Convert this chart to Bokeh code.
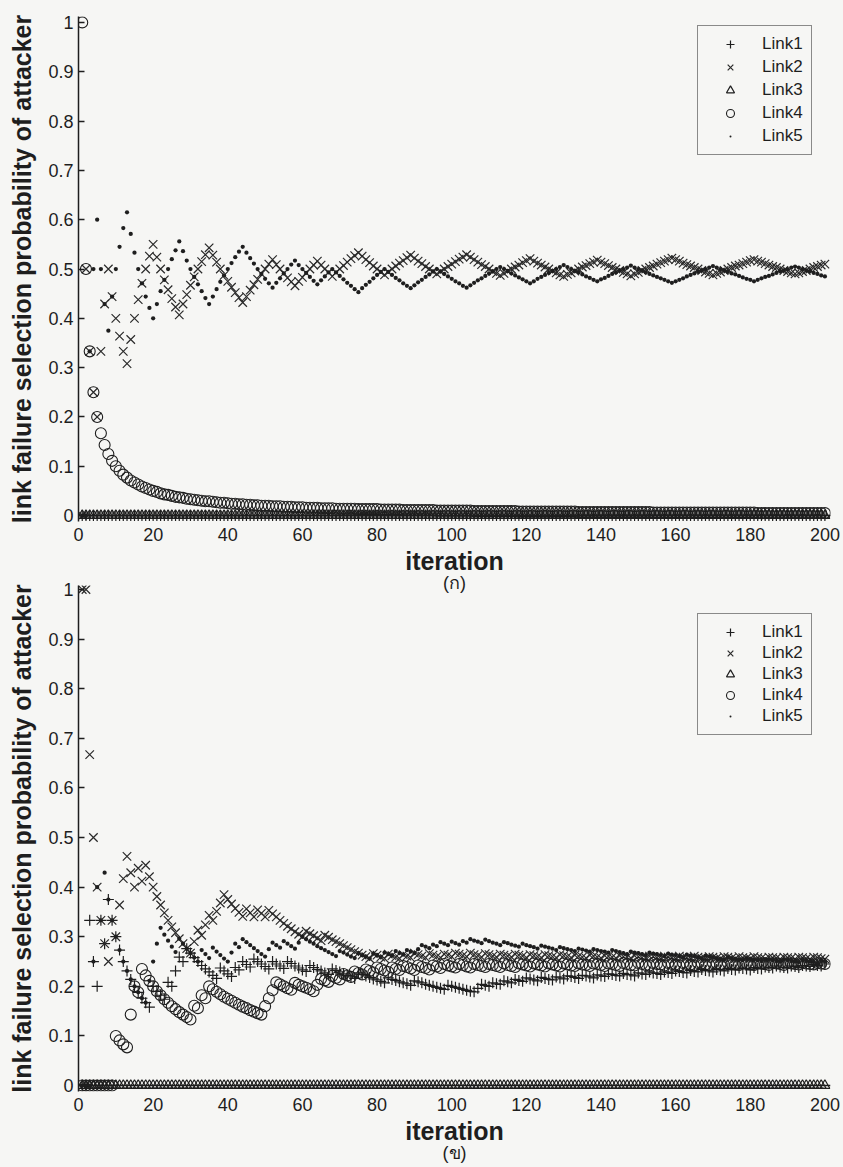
from bokeh.plotting import figure
from bokeh.models import Range1d, FixedTicker, Legend, LegendItem, Span, Title
from bokeh.layouts import column
from bokeh.embed import file_html
from bokeh.resources import INLINE

# ---------------- data ----------------
iterations = list(range(1, 201))
series_names = ["Link1", "Link2", "Link3", "Link4", "Link5"]
x_ticks = [0, 20, 40, 60, 80, 100, 120, 140, 160, 180, 200]
y_ticks = [0, 0.1, 0.2, 0.3, 0.4, 0.5, 0.6, 0.7, 0.8, 0.9, 1.0]
y_tick_labels = ["0", "0.1", "0.2", "0.3", "0.4", "0.5", "0.6", "0.7", "0.8", "0.9", "1"]
x_label = "iteration"
y_label = "link failure selection probability of attacker"
captions = ["(ก)", "(ข)"]

# panel (ก)
link1_top = [0.0] * 200
link3_top = [0.0] * 200
link4_top = [
    1, .5, .333, .25, .2, .167, .143, .125, .111, .1,
    .091, .083, .077, .071, .067, .063, .059, .056, .053, .05,
    .048, .045, .043, .042, .04, .038, .037, .036, .034, .033,
    .032, .031, .03, .029, .029, .028, .027, .026, .026, .025,
    .024, .024, .023, .023, .022, .022, .021, .021, .02, .02,
    .02, .019, .019, .019, .018, .018, .018, .017, .017, .017,
    .016, .016, .016, .016, .015, .015, .015, .015, .014, .014,
    .014, .014, .014, .014, .013, .013, .013, .013, .013, .013,
    .012, .012, .012, .012, .012, .012, .011, .011, .011, .011,
    .011, .011, .011, .011, .011, .01, .01, .01, .01, .01,
    .01, .01, .01, .01, .01, .009, .009, .009, .009, .009,
    .009, .009, .009, .009, .009, .009, .009, .008, .008, .008,
    .008, .008, .008, .008, .008, .008, .008, .008, .008, .008,
    .008, .008, .008, .007, .007, .007, .007, .007, .007, .007,
    .007, .007, .007, .007, .007, .007, .007, .007, .007, .007,
    .007, .007, .007, .006, .006, .006, .006, .006, .006, .006,
    .006, .006, .006, .006, .006, .006, .006, .006, .006, .006,
    .006, .006, .006, .006, .006, .006, .006, .006, .006, .006,
    .006, .005, .005, .005, .005, .005, .005, .005, .005, .005,
    .005, .005, .005, .005, .005, .005, .005, .005, .005, .005,
]
link2_top = [
    0, .5, .333, .25, .2, .333, .429, .5, .444, .4,
    .364, .333, .308, .357, .4, .438, .471, .5, .526, .55,
    .524, .5, .478, .458, .44, .423, .407, .429, .448, .467,
    .484, .5, .515, .529, .543, .528, .514, .5, .487, .475,
    .463, .452, .442, .432, .444, .457, .468, .479, .49, .5,
    .51, .519, .509, .5, .491, .482, .474, .466, .475, .483,
    .492, .5, .508, .516, .508, .5, .493, .485, .493, .5,
    .507, .514, .521, .527, .533, .526, .519, .513, .506, .5,
    .494, .488, .494, .5, .506, .512, .517, .523, .528, .522,
    .516, .511, .505, .5, .495, .49, .495, .5, .505, .51,
    .515, .52, .524, .529, .524, .519, .514, .509, .505, .5,
    .495, .491, .487, .491, .496, .5, .504, .508, .513, .517,
    .521, .516, .512, .508, .504, .5, .496, .492, .488, .485,
    .489, .492, .496, .5, .504, .507, .511, .514, .518, .514,
    .511, .507, .503, .5, .497, .493, .49, .486, .49, .493,
    .497, .5, .503, .506, .51, .513, .516, .519, .522, .519,
    .516, .512, .509, .506, .503, .5, .497, .494, .491, .488,
    .491, .494, .497, .5, .503, .506, .508, .511, .514, .517,
    .519, .516, .514, .511, .508, .505, .503, .5, .497, .495,
    .492, .49, .492, .495, .497, .5, .503, .505, .508, .51,
]
link5_top = [
    0, 0, .333, .5, .6, .5, .429, .375, .444, .5,
    .545, .583, .615, .571, .533, .5, .471, .444, .421, .4,
    .429, .455, .478, .5, .52, .538, .556, .536, .517, .5,
    .484, .469, .455, .441, .429, .444, .459, .474, .487, .5,
    .512, .524, .535, .545, .533, .522, .511, .5, .49, .48,
    .471, .462, .472, .481, .491, .5, .509, .517, .508, .5,
    .492, .484, .476, .469, .477, .485, .493, .5, .493, .486,
    .479, .472, .466, .459, .453, .461, .468, .474, .481, .488,
    .494, .5, .494, .488, .482, .477, .471, .466, .461, .467,
    .473, .478, .484, .489, .495, .5, .495, .49, .485, .48,
    .475, .471, .466, .462, .467, .472, .477, .481, .486, .491,
    .495, .5, .504, .5, .496, .491, .487, .483, .479, .475,
    .471, .475, .48, .484, .488, .492, .496, .5, .504, .508,
    .504, .5, .496, .493, .489, .485, .482, .478, .475, .479,
    .482, .486, .49, .493, .497, .5, .503, .507, .503, .5,
    .497, .493, .49, .487, .484, .481, .478, .475, .472, .475,
    .478, .481, .485, .488, .491, .494, .497, .5, .503, .506,
    .503, .5, .497, .494, .491, .489, .486, .483, .48, .478,
    .475, .478, .481, .484, .486, .489, .492, .495, .497, .5,
    .503, .505, .503, .5, .497, .495, .492, .49, .487, .485,
]

# panel (ข)
link3_bot = [0.0] * 200
link1_bot = [
    0, 0, .333, .25, .2, .333, .286, .375, .333, .3,
    .273, .25, .231, .214, .2, .188, .176, .167, .158, .2,
    .19, .182, .174, .208, .2, .231, .259, .25, .276, .267,
    .258, .25, .242, .235, .229, .222, .216, .237, .231, .225,
    .22, .238, .233, .25, .244, .239, .255, .25, .245, .24,
    .235, .25, .245, .241, .236, .25, .246, .241, .237, .233,
    .23, .242, .238, .234, .231, .227, .224, .235, .232, .229,
    .225, .222, .219, .216, .227, .224, .221, .218, .215, .213,
    .21, .207, .217, .214, .212, .209, .207, .205, .202, .211,
    .209, .207, .204, .202, .2, .198, .196, .194, .202, .2,
    .198, .196, .194, .192, .19, .189, .196, .204, .202, .2,
    .207, .205, .204, .211, .209, .207, .214, .212, .21, .217,
    .215, .213, .211, .218, .216, .214, .213, .219, .217, .215,
    .221, .22, .218, .216, .222, .221, .219, .217, .223, .221,
    .22, .225, .224, .222, .221, .226, .224, .223, .221, .227,
    .225, .224, .229, .227, .226, .224, .229, .228, .226, .231,
    .23, .228, .227, .232, .23, .229, .234, .232, .231, .229,
    .234, .233, .231, .236, .234, .233, .237, .236, .235, .233,
    .238, .236, .235, .239, .238, .237, .241, .239, .238, .237,
    .241, .24, .238, .242, .241, .24, .244, .242, .241, .245,
]
link2_bot = [
    1, 1, .667, .5, .4, .333, .286, .25, .333, .3,
    .364, .417, .462, .429, .4, .438, .412, .444, .421, .4,
    .381, .364, .348, .333, .32, .308, .296, .286, .276, .267,
    .29, .313, .303, .324, .343, .333, .351, .368, .385, .375,
    .366, .357, .349, .341, .356, .348, .34, .354, .347, .34,
    .353, .346, .34, .333, .327, .321, .316, .31, .305, .3,
    .311, .306, .302, .297, .292, .303, .299, .294, .29, .286,
    .282, .278, .274, .27, .267, .263, .26, .256, .266, .263,
    .259, .256, .265, .262, .259, .256, .264, .261, .258, .267,
    .264, .261, .258, .266, .263, .26, .258, .265, .263, .26,
    .267, .265, .262, .26, .267, .264, .262, .259, .266, .264,
    .261, .259, .265, .263, .261, .259, .265, .263, .261, .258,
    .264, .262, .26, .258, .264, .262, .26, .258, .264, .262,
    .26, .258, .263, .261, .259, .257, .263, .261, .259, .257,
    .262, .261, .259, .257, .262, .26, .259, .257, .262, .26,
    .258, .257, .261, .26, .258, .256, .261, .259, .258, .256,
    .261, .259, .258, .256, .261, .259, .257, .256, .26, .259,
    .257, .256, .26, .259, .257, .256, .26, .258, .257, .256,
    .26, .258, .257, .255, .259, .258, .257, .255, .259, .258,
    .257, .255, .259, .258, .256, .255, .259, .258, .256, .255,
]
link4_bot = [
    0, 0, 0, 0, 0, 0, 0, 0, 0, .1,
    .091, .083, .077, .143, .2, .188, .235, .222, .211, .2,
    .19, .182, .174, .167, .16, .154, .148, .143, .138, .133,
    .161, .156, .182, .176, .2, .194, .189, .184, .179, .175,
    .171, .167, .163, .159, .156, .152, .149, .146, .143, .16,
    .176, .192, .208, .204, .2, .196, .193, .207, .203, .2,
    .197, .194, .19, .203, .215, .212, .209, .221, .217, .214,
    .225, .222, .219, .23, .227, .224, .234, .231, .228, .238,
    .235, .232, .229, .238, .235, .233, .241, .239, .236, .233,
    .242, .239, .237, .234, .242, .24, .237, .245, .242, .24,
    .238, .245, .243, .24, .238, .245, .243, .241, .239, .245,
    .243, .241, .239, .246, .243, .241, .239, .246, .244, .242,
    .24, .246, .244, .242, .24, .246, .244, .242, .24, .246,
    .244, .242, .241, .246, .244, .243, .241, .246, .245, .243,
    .241, .246, .245, .243, .241, .247, .245, .243, .242, .247,
    .245, .243, .242, .247, .245, .244, .242, .247, .245, .244,
    .242, .247, .245, .244, .242, .247, .246, .244, .243, .247,
    .246, .244, .243, .247, .246, .244, .243, .247, .246, .244,
    .243, .247, .246, .245, .243, .247, .246, .245, .243, .247,
    .246, .245, .244, .247, .246, .245, .244, .247, .246, .245,
]
link5_bot = [
    0, 0, 0, .25, .4, .333, .429, .375, .333, .3,
    .273, .25, .231, .214, .2, .188, .176, .167, .211, .25,
    .286, .318, .304, .292, .28, .269, .296, .286, .276, .267,
    .258, .25, .273, .265, .257, .278, .27, .263, .256, .25,
    .268, .286, .279, .295, .289, .283, .277, .271, .265, .26,
    .275, .288, .283, .278, .291, .286, .281, .276, .288, .3,
    .295, .29, .286, .281, .277, .273, .269, .265, .261, .271,
    .268, .264, .26, .257, .267, .263, .26, .256, .266, .263,
    .259, .268, .265, .262, .271, .267, .264, .273, .27, .267,
    .275, .283, .28, .277, .284, .281, .289, .286, .283, .29,
    .287, .284, .291, .288, .295, .292, .29, .287, .294, .291,
    .288, .286, .283, .289, .287, .284, .282, .28, .286, .283,
    .281, .279, .276, .282, .28, .278, .276, .273, .279, .277,
    .275, .273, .271, .276, .274, .272, .27, .275, .273, .271,
    .27, .268, .273, .271, .269, .267, .265, .27, .268, .267,
    .265, .263, .268, .266, .265, .263, .261, .266, .264, .263,
    .261, .259, .264, .262, .261, .259, .257, .262, .26, .259,
    .257, .256, .254, .259, .257, .256, .254, .253, .257, .256,
    .254, .253, .251, .255, .254, .253, .251, .25, .254, .253,
    .251, .25, .249, .253, .251, .25, .249, .247, .251, .25,
]

# ---------------- style ----------------
BG = "#f6f6f4"
INK = "#1e1e1e"
FONT = "Liberation Sans"

MARKERS = [
    dict(marker="cross", size=11, line_color=INK, line_width=1.2, fill_color=None),
    dict(marker="x", size=12, line_color="#2a2a2a", line_width=1.2, fill_color=None),
    dict(marker="triangle", size=10, line_color=INK, line_width=1.2, fill_color=None),
    dict(marker="circle", size=11, line_color=INK, line_width=1.1, fill_color=None),
    dict(marker="dot", size=17, line_color=INK, line_width=1, fill_color=INK),
]


def make_panel(series, caption, height, border_top, border_bottom, y_end, legend_loc, row_gap):
    p = figure(width=843, height=height, output_backend="svg", toolbar_location=None,
               x_range=Range1d(0, 201.5), y_range=Range1d(-0.012, y_end),
               min_border_left=78, min_border_right=13,
               min_border_top=border_top, min_border_bottom=border_bottom,
               background_fill_color=None, border_fill_color=None,
               outline_line_color=None)
    p.xgrid.visible = False
    p.ygrid.visible = False

    # x axis
    p.xaxis.ticker = FixedTicker(ticks=x_ticks)
    p.xaxis.axis_line_color = None
    p.xaxis.major_tick_line_color = None
    p.xaxis.minor_tick_line_color = None
    p.xaxis.major_label_standoff = 0
    p.xaxis.major_label_text_font = FONT
    p.xaxis.major_label_text_font_size = "18px"
    p.xaxis.major_label_text_color = INK
    p.xaxis.axis_label = x_label
    p.xaxis.axis_label_text_font = FONT
    p.xaxis.axis_label_text_font_size = "25px"
    p.xaxis.axis_label_text_font_style = "bold"
    p.xaxis.axis_label_text_color = INK
    p.xaxis.axis_label_standoff = 3

    # y axis
    p.yaxis.ticker = FixedTicker(ticks=y_ticks)
    p.yaxis.major_label_overrides = dict(zip(y_ticks, y_tick_labels))
    p.yaxis.axis_line_color = INK
    p.yaxis.axis_line_width = 1.5
    p.yaxis.major_tick_line_color = INK
    p.yaxis.major_tick_line_width = 1.5
    p.yaxis.major_tick_in = 6
    p.yaxis.major_tick_out = 0
    p.yaxis.minor_tick_line_color = None
    p.yaxis.major_label_standoff = 5
    p.yaxis.major_label_text_font = FONT
    p.yaxis.major_label_text_font_size = "18px"
    p.yaxis.major_label_text_color = INK
    p.yaxis.axis_label = y_label
    p.yaxis.axis_label_text_font = FONT
    p.yaxis.axis_label_text_font_size = "25px"
    p.yaxis.axis_label_text_font_style = "bold"
    p.yaxis.axis_label_text_color = INK
    p.yaxis.axis_label_standoff = 9

    p.add_layout(Span(location=0, dimension="width", line_color=INK, line_width=1.5))

    items = []
    for name, values, style in zip(series_names, series, MARKERS):
        r = p.scatter(iterations, values, **style)
        items.append(LegendItem(label=name, renderers=[r]))

    legend = Legend(items=items, location=legend_loc,
                    label_text_font=FONT, label_text_font_size="17px",
                    label_text_color=INK, border_line_color=INK, border_line_width=1,
                    background_fill_color=BG, background_fill_alpha=1.0,
                    padding=8, spacing=row_gap, margin=0, glyph_width=48, glyph_height=20,
                    label_height=20, label_standoff=8)
    p.add_layout(legend)

    p.add_layout(Title(text=caption, align="center", text_font=FONT,
                       text_font_size="18px", text_font_style="normal",
                       text_color=INK, standoff=-13, offset=-6), "below")
    return p


p_top = make_panel([link1_top, link2_top, link3_top, link4_top, link5_top], captions[0],
                   height=596, border_top=16, border_bottom=75, y_end=1.012,
                   legend_loc=(619, 366), row_gap=3)
p_bot = make_panel([link1_bot, link2_bot, link3_bot, link4_bot, link5_bot], captions[1],
                   height=592, border_top=10, border_bottom=76, y_end=1.008,
                   legend_loc=(619, 356), row_gap=1)
p_bot.margin = (-21, 0, 0, 0)

layout = column(p_top, p_bot, spacing=0, styles={"background-color": BG})

open("out.html", "w").write(file_html(layout, INLINE))
